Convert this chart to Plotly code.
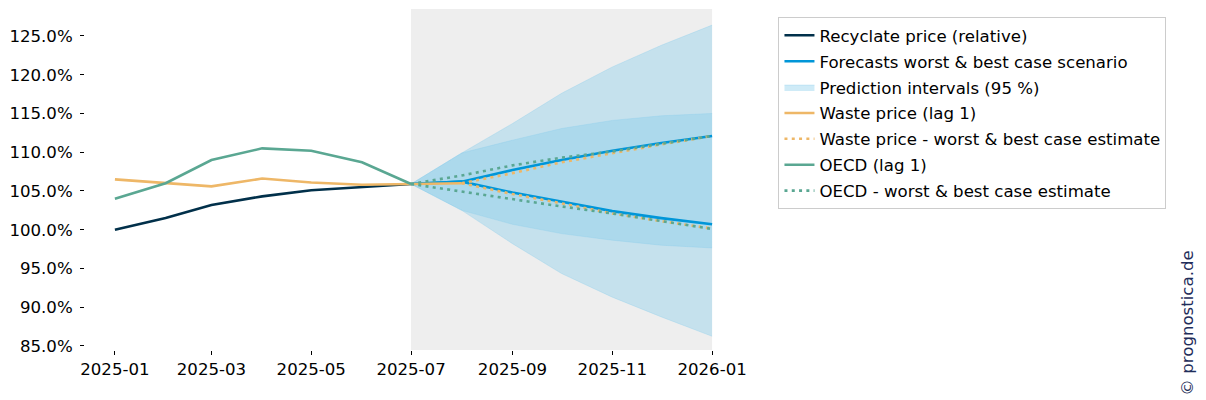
import plotly.graph_objects as go

# ---- data ----
hist_months = ["2025-01-01", "2025-02-01", "2025-03-01", "2025-04-01", "2025-05-01", "2025-06-01", "2025-07-01"]
recyclate = [100.0, 101.5, 103.2, 104.3, 105.1, 105.5, 105.9]

waste_months = ["2025-01-01", "2025-02-01", "2025-03-01", "2025-04-01", "2025-05-01", "2025-06-01", "2025-07-01", "2025-08-01"]
waste_lag1 = [106.5, 106.0, 105.6, 106.6, 106.1, 105.8, 105.9, 106.0]

oecd_lag1 = [104.0, 106.0, 109.0, 110.5, 110.2, 108.7, 105.9]

fc_months = ["2025-07-01", "2025-08-01", "2025-09-01", "2025-10-01", "2025-11-01", "2025-12-01", "2026-01-01"]
fc_best = [105.9, 106.2, 107.7, 109.0, 110.2, 111.2, 112.1]
fc_worst = [105.9, 106.2, 104.8, 103.6, 102.4, 101.5, 100.7]

best_upper = [105.9, 109.9, 113.7, 117.6, 121.0, 123.8, 126.4]
best_lower = [105.9, 102.5, 100.7, 99.5, 98.65, 98.0, 97.65]
worst_upper = [105.9, 109.9, 111.55, 113.06, 114.1, 114.7, 115.0]
worst_lower = [105.9, 102.5, 98.2, 94.35, 91.3, 88.75, 86.25]

waste_est_months = ["2025-08-01", "2025-09-01", "2025-10-01", "2025-11-01", "2025-12-01", "2026-01-01"]
waste_est_best = [106.0, 107.3, 108.7, 109.9, 111.0, 112.1]
waste_est_worst = [106.0, 104.6, 103.4, 102.1, 101.1, 100.15]

oecd_est_best = [105.9, 107.0, 108.3, 109.3, 110.1, 111.1, 112.1]
oecd_est_worst = [105.9, 104.9, 103.9, 103.0, 102.1, 101.1, 100.1]

y_ticks = [85, 90, 95, 100, 105, 110, 115, 120, 125]
y_tick_labels = ["85.0%", "90.0%", "95.0%", "100.0%", "105.0%", "110.0%", "115.0%", "120.0%", "125.0%"]
x_ticks = ["2025-01-01", "2025-03-01", "2025-05-01", "2025-07-01", "2025-09-01", "2025-11-01", "2026-01-01"]

# ---- style ----
NAVY = "#01304A"
BLUE = "#0096D8"
ORANGE = "#EEB767"
GREEN = "#5AA792"
BAND = "rgba(135,206,235,0.4)"
LW = 2.6
DOT = "3px,4.3px"
FONT = "DejaVu Sans"
FS = 16.6

fig = go.Figure()

# prediction bands
fig.add_trace(go.Scatter(x=fc_months, y=best_lower, mode="lines", line=dict(width=0.8, color=BAND),
                         showlegend=False, hoverinfo="skip", legendgroup="pi"))
fig.add_trace(go.Scatter(x=fc_months, y=best_upper, mode="lines", line=dict(width=0.8, color=BAND),
                         fill="tonexty", fillcolor=BAND, name="Prediction intervals (95 %)",
                         legendrank=3, legendgroup="pi"))
fig.add_trace(go.Scatter(x=fc_months, y=worst_lower, mode="lines", line=dict(width=0.8, color=BAND),
                         showlegend=False, hoverinfo="skip", legendgroup="pi"))
fig.add_trace(go.Scatter(x=fc_months, y=worst_upper, mode="lines", line=dict(width=0.8, color=BAND),
                         fill="tonexty", fillcolor=BAND, showlegend=False, legendgroup="pi"))

# forecasts
fig.add_trace(go.Scatter(x=fc_months, y=fc_best, mode="lines", line=dict(color=BLUE, width=LW),
                         name="Forecasts worst & best case scenario", legendrank=2, legendgroup="fc"))
fig.add_trace(go.Scatter(x=fc_months, y=fc_worst, mode="lines", line=dict(color=BLUE, width=LW),
                         showlegend=False, legendgroup="fc"))

# history
fig.add_trace(go.Scatter(x=hist_months, y=recyclate, mode="lines", line=dict(color=NAVY, width=LW),
                         name="Recyclate price (relative)", legendrank=1, legendgroup="rec"))
fig.add_trace(go.Scatter(x=waste_months, y=waste_lag1, mode="lines", line=dict(color=ORANGE, width=LW),
                         name="Waste price (lag 1)", legendrank=4, legendgroup="waste"))
fig.add_trace(go.Scatter(x=hist_months, y=oecd_lag1, mode="lines", line=dict(color=GREEN, width=LW),
                         name="OECD (lag 1)", legendrank=6, legendgroup="oecd"))

# estimates
fig.add_trace(go.Scatter(x=waste_est_months, y=waste_est_best, mode="lines",
                         line=dict(color=ORANGE, width=LW, dash=DOT),
                         name="Waste price - worst & best case estimate", legendrank=5, legendgroup="west"))
fig.add_trace(go.Scatter(x=waste_est_months, y=waste_est_worst, mode="lines",
                         line=dict(color=ORANGE, width=LW, dash=DOT), showlegend=False, legendgroup="west"))
fig.add_trace(go.Scatter(x=fc_months, y=oecd_est_best, mode="lines",
                         line=dict(color=GREEN, width=LW, dash=DOT),
                         name="OECD - worst & best case estimate", legendrank=7, legendgroup="oest"))
fig.add_trace(go.Scatter(x=fc_months, y=oecd_est_worst, mode="lines",
                         line=dict(color=GREEN, width=LW, dash=DOT), showlegend=False, legendgroup="oest"))

# shaded forecast period
fig.add_shape(type="rect", xref="x", yref="paper", x0=fc_months[0], x1=fc_months[-1], y0=0, y1=1,
              fillcolor="#EEEEEE", line=dict(width=0), layer="below")

fig.add_annotation(text="© prognostica.de", xref="paper", yref="paper", x=1.695, y=-0.1408,
                   xanchor="right", yanchor="bottom",
                   textangle=-90, showarrow=False, font=dict(family=FONT, size=FS, color="#1F2D5A"))

fig.update_layout(
    width=1198, height=392,
    margin=dict(l=75, r=464, t=1, b=50),
    paper_bgcolor="white", plot_bgcolor="white",
    font=dict(family=FONT, size=FS, color="black"),
    showlegend=True,
    legend=dict(x=1.0555, y=0.9765, xanchor="left", yanchor="top",
                bgcolor="white", bordercolor="#CCCCCC", borderwidth=1,
                font=dict(family=FONT, size=FS, color="black"),
                traceorder="grouped", tracegroupgap=1.3),
)
fig.update_xaxes(range=["2024-12-13 17:17", "2026-01-19 06:43"], tickvals=x_ticks, tickformat="%Y-%m",
                 ticks="outside", ticklen=4, tickcolor="black", showline=False, showgrid=False,
                 zeroline=False, tickfont=dict(family=FONT, size=FS, color="black"))
fig.update_yaxes(range=[84.48, 128.48], tickvals=y_ticks, ticktext=y_tick_labels,
                 ticks="outside", ticklen=4, tickcolor="black", showline=False, showgrid=False,
                 zeroline=False, ticklabelstandoff=4, tickfont=dict(family=FONT, size=FS, color="black"))

fig.write_html("out.html")
